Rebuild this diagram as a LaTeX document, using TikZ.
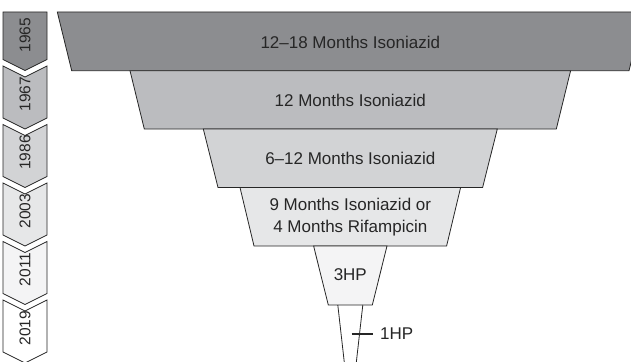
\documentclass[tikz,border=0pt]{standalone}
\usepackage{fontspec}
\setmainfont{Liberation Sans}
\usepackage{tikz}
\usetikzlibrary{positioning}
\definecolor{bandA}{HTML}{8C8D90}
\definecolor{bandB}{HTML}{BBBCBF}
\definecolor{bandC}{HTML}{D2D3D5}
\definecolor{bandD}{HTML}{E6E7E8}
\definecolor{bandE}{HTML}{F4F4F5}
\tikzstyle{band}      = [draw=black!85, line width=0.8pt, line join=miter]
\tikzstyle{bandtext}  = [font=\fontsize{17}{22}\selectfont, text=black!85, align=center, inner sep=0pt]
\tikzstyle{yeartext}  = [font=\fontsize{15.5}{17}\selectfont, text=black!85, rotate=90, inner sep=0pt]

\begin{document}
\begin{tikzpicture}[x=1pt, y=-1pt]
		\useasboundingbox (0,0) rectangle (631,361);
		\clip (0,0) rectangle (631,361);

		% funnel
		\draw[band, fill=bandA] (57.3,12) -- (643.3,12) -- (629,70.7) -- (71.7,70.7) -- cycle;
		\draw[band, fill=bandB] (130,70.7) -- (570.6,70.7) -- (556.3,129) -- (144.3,129) -- cycle;
		\draw[band, fill=bandC] (203.3,129) -- (497.3,129) -- (482.6,187.5) -- (218,187.5) -- cycle;
		\draw[band, fill=bandD] (240,187.5) -- (460.6,187.5) -- (446.6,246) -- (254,246) -- cycle;
		\draw[band, fill=bandE] (313.6,246) -- (387,246) -- (372.3,305) -- (328.3,305) -- cycle;
		\draw[band] (337.8,305) -- (344.6,365);
		\draw[band] (362.8,305) -- (356,365);

		\node[bandtext] (rx1965) at (350.3,42) {12--18 Months Isoniazid};
		\node[bandtext] (rx1967) at (350.3,100) {12 Months Isoniazid};
		\node[bandtext] (rx1986) at (350.3,158) {6--12 Months Isoniazid};
		\node[bandtext] (rx2003) at (350.3,217) {9 Months Isoniazid or\\4 Months Rifampicin};
		\node[bandtext] (rx2011) at (350.3,275) {3HP};
		\node[bandtext, anchor=west] (rx2019) at (380,334) {1HP};
		\draw[line width=1.6pt, black!85] ([xshift=-28.5pt]rx2019.west) -- ([xshift=-7pt]rx2019.west);

		% timeline
		\draw[band, fill=bandA] (3,12) -- (47,12) -- (47,59.5) -- (25,70.5) -- (3,59.5) -- cycle;
		\draw[band, fill=bandB] (3,66) -- (25,77) -- (47,66) -- (47,118) -- (25,129) -- (3,118) -- cycle;
		\draw[band, fill=bandC] (3,124.5) -- (25,135.5) -- (47,124.5) -- (47,176.5) -- (25,187.5) -- (3,176.5) -- cycle;
		\draw[band, fill=bandD] (3,183) -- (25,194) -- (47,183) -- (47,235) -- (25,246) -- (3,235) -- cycle;
		\draw[band, fill=bandE] (3,241.5) -- (25,252.5) -- (47,241.5) -- (47,293.5) -- (25,304.5) -- (3,293.5) -- cycle;
		\draw[band, fill=white] (3,300) -- (25,311) -- (47,300) -- (47,352) -- (25,363) -- (3,352) -- cycle;

		\node[yeartext] (y1965) at (25,35) {1965};
		\node[yeartext] (y1967) at (25,94) {1967};
		\node[yeartext] (y1986) at (25,152.5) {1986};
		\node[yeartext] (y2003) at (25,211) {2003};
		\node[yeartext] (y2011) at (25,269.5) {2011};
		\node[yeartext] (y2019) at (25,328) {2019};
	\end{tikzpicture}
\end{document}
